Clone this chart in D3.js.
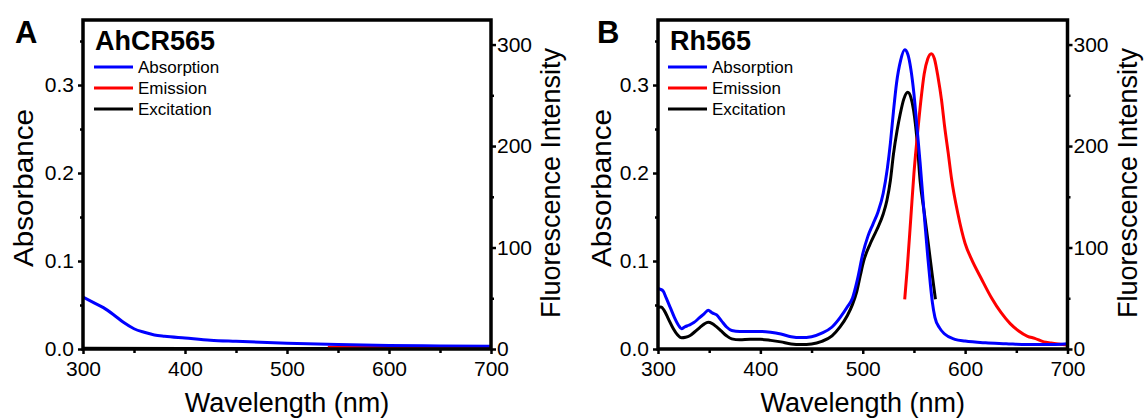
<!DOCTYPE html>
<html>
<head>
<meta charset="utf-8">
<script src="https://cdn.jsdelivr.net/npm/d3@7"></script>
<style>
  html, body { margin: 0; padding: 0; background: #fff; }
  svg { display: block; font-family: "Liberation Sans", Arial, sans-serif; }
</style>
</head>
<body>
<svg id="chart" width="1146" height="419"></svg>
<script>
// ---------- tick labels / text ----------
const wavelengthTicks = [300, 400, 500, 600, 700];
const wavelengthMinor = [350, 450, 550, 650];
const absorbanceTicks = [0.0, 0.1, 0.2, 0.3];
const absorbanceMinor = [0.05, 0.15, 0.25, 0.35];
const fluorTicks = [0, 100, 200, 300];
const fluorMinor = [50, 150, 250];
const legendLabels = ["Absorption", "Emission", "Excitation"];
const panelLetters = ["A", "B"];
const panelTitles = ["AhCR565", "Rh565"];

// ---------- Panel A (AhCR565) ----------
const aAbsWl  = [300, 310, 320, 330, 340, 350, 360, 370, 380, 400, 425, 450, 500, 550, 600, 650, 700];
const aAbsVal = [0.059, 0.053, 0.047, 0.039, 0.030, 0.023, 0.019, 0.016, 0.0145, 0.0125, 0.010, 0.0087, 0.0065, 0.005, 0.004, 0.0035, 0.003];
const aEmWl   = [540, 600, 650, 700];
const aEmVal  = [1.8, 1.6, 1.4, 1.2];
const aExcWl  = [300, 400, 500, 570];
const aExcVal = [0.8, 0.5, 0.4, 0.4];

// ---------- Panel B (Rh565) ----------
const bAbsWl  = [300, 302, 305, 308, 312, 316, 320, 323, 326, 330, 335, 340, 345, 349, 353, 357, 362, 367, 372, 380, 390, 400, 410, 420, 430, 440, 450, 460, 470, 478, 485, 490, 495, 500, 505, 510, 515, 520, 524, 527, 530, 533, 537, 541, 544, 547, 550, 553, 556, 559, 561, 563.5, 566, 568, 570.5, 575, 580, 590, 600, 620, 640, 660, 680, 700];
const bAbsVal = [0.069, 0.068, 0.066, 0.058, 0.047, 0.036, 0.027, 0.023, 0.025, 0.027, 0.030, 0.035, 0.040, 0.044, 0.041, 0.039, 0.032, 0.025, 0.021, 0.020, 0.020, 0.020, 0.019, 0.017, 0.014, 0.013, 0.014, 0.018, 0.025, 0.036, 0.048, 0.058, 0.080, 0.108, 0.128, 0.142, 0.156, 0.177, 0.205, 0.234, 0.270, 0.302, 0.328, 0.340, 0.335, 0.318, 0.290, 0.252, 0.212, 0.168, 0.139, 0.105, 0.074, 0.053, 0.036, 0.024, 0.017, 0.011, 0.009, 0.007, 0.006, 0.005, 0.005, 0.006];
const bEmWl   = [541, 543.5, 547, 550, 553.5, 556.8, 560, 563.5, 567, 570, 573.5, 577, 580, 583.5, 586.7, 593, 600, 606, 616, 626, 635, 644, 652, 661, 668, 677, 684, 700];
const bEmVal  = [49, 80, 130, 173, 212, 245, 271, 286, 291, 286, 268, 245, 219, 193, 168, 133, 104, 89, 69, 50, 36, 25, 18, 12.5, 10.5, 7, 6, 4];
const bExcWl  = [300, 303, 306, 310, 315, 319, 323, 327, 331, 336, 341, 345, 349, 353, 357, 362, 367, 372, 380, 390, 400, 410, 420, 430, 440, 450, 460, 470, 478, 485, 490, 494, 497.5, 501, 507, 513.5, 520, 523.5, 527, 530, 533.5, 536.7, 540, 544, 547, 549.7, 553, 556, 560, 564, 568, 571];
const bExcVal = [41, 41.5, 38, 30, 20, 14, 11, 11.5, 13, 17, 21.3, 24.5, 26.3, 25, 22, 17.5, 13, 10, 9, 9.5, 9.5, 8.5, 7, 5, 4.5, 5, 7.5, 13, 22, 33, 44, 56, 72, 87, 103, 117, 133, 146, 166, 192, 215, 232, 246, 253, 248, 235, 206, 166, 135, 104, 72, 49];

const seriesColors = ["#0000ff", "#ff0000", "#000000"];

const panels = [
  { left: 83, right: 491, yTitleX: 33, letterX: 15, titleX: 95, legX: 94,
    abs: [aAbsWl, aAbsVal], em: [aEmWl, aEmVal], exc: [aExcWl, aExcVal] },
  { left: 658, right: 1067.5, yTitleX: 611, letterX: 597, titleX: 670, legX: 668,
    abs: [bAbsWl, bAbsVal], em: [bEmWl, bEmVal], exc: [bExcWl, bExcVal] }
];

const TOP = 20, BOTTOM = 349;
const svg = d3.select("#chart");

panels.forEach((p, i) => {
  const x = d3.scaleLinear().domain([300, 700]).range([p.left, p.right]);
  const yL = d3.scaleLinear().domain([0, 0.3739]).range([BOTTOM, TOP]);
  const yR = d3.scaleLinear().domain([0, 324.2]).range([BOTTOM, TOP]);
  const g = svg.append("g");

  // clip
  const clipId = "clip" + i;
  svg.append("clipPath").attr("id", clipId).append("rect")
    .attr("x", p.left).attr("y", TOP).attr("width", p.right - p.left).attr("height", BOTTOM - TOP);

  const styleAxis = (sel, size) => {
    sel.select(".domain").remove();
    sel.selectAll(".tick line").attr("stroke", "#000").attr("stroke-width", 2.5);
    sel.selectAll(".tick text").attr("fill", "#000").style("font-size", size + "px")
      .style("font-family", "'Liberation Sans', Arial, sans-serif");
  };

  // bottom axis
  g.append("g").attr("transform", `translate(0,${BOTTOM})`)
    .call(d3.axisBottom(x).tickValues(wavelengthTicks).tickSize(5).tickPadding(7).tickFormat(d3.format("d")))
    .call(s => styleAxis(s, 21));
  g.append("g").attr("transform", `translate(0,${BOTTOM})`)
    .call(d3.axisBottom(x).tickValues(wavelengthMinor).tickSize(4).tickFormat(""))
    .call(s => styleAxis(s, 21));

  // left axis
  g.append("g").attr("transform", `translate(${p.left},0)`)
    .call(d3.axisLeft(yL).tickValues(absorbanceTicks).tickSize(5).tickPadding(4).tickFormat(d3.format(".1f")))
    .call(s => styleAxis(s, 21));
  g.append("g").attr("transform", `translate(${p.left},0)`)
    .call(d3.axisLeft(yL).tickValues(absorbanceMinor).tickSize(3).tickFormat(""))
    .call(s => styleAxis(s, 21));

  // right axis
  g.append("g").attr("transform", `translate(${p.right},0)`)
    .call(d3.axisRight(yR).tickValues(fluorTicks).tickSize(5).tickPadding(1).tickFormat(d3.format("d")))
    .call(s => styleAxis(s, 21));
  g.append("g").attr("transform", `translate(${p.right},0)`)
    .call(d3.axisRight(yR).tickValues(fluorMinor).tickSize(3).tickFormat(""))
    .call(s => styleAxis(s, 21));

  // curves
  const mk = (scaleY, arr) => {
    const pts = arr[0].map((w, k) => [w, arr[1][k]]);
    return d3.line().x(d => x(d[0])).y(d => scaleY(d[1])).curve(d3.curveMonotoneX)(pts);
  };
  const lines = g.append("g").attr("clip-path", `url(#${clipId})`);
  lines.append("path").attr("d", mk(yR, p.exc)).attr("fill", "none")
    .attr("stroke", seriesColors[2]).attr("stroke-width", 3);
  lines.append("path").attr("d", mk(yR, p.em)).attr("fill", "none")
    .attr("stroke", seriesColors[1]).attr("stroke-width", 3);
  lines.append("path").attr("d", mk(yL, p.abs)).attr("fill", "none")
    .attr("stroke", seriesColors[0]).attr("stroke-width", 3);

  // frame
  g.append("rect").attr("x", p.left).attr("y", TOP)
    .attr("width", p.right - p.left).attr("height", BOTTOM - TOP)
    .attr("fill", "none").attr("stroke", "#000").attr("stroke-width", 3.5);

  // axis titles
  g.append("text").attr("x", (p.left + p.right) / 2).attr("y", 412)
    .attr("text-anchor", "middle").style("font-size", "27px").text("Wavelength (nm)");
  g.append("text").attr("transform", `translate(${p.yTitleX},188) rotate(-90)`)
    .attr("text-anchor", "middle").style("font-size", "27px")
    .attr("textLength", 158).attr("lengthAdjust", "spacingAndGlyphs").text("Absorbance");
  g.append("text").attr("transform", `translate(${p.right + 69},183) rotate(-90)`)
    .attr("text-anchor", "middle").style("font-size", "27px").text("Fluorescence Intensity");

  // panel letter and title
  g.append("text").attr("x", p.letterX).attr("y", 43)
    .style("font-size", "31px").style("font-weight", "bold").text(panelLetters[i]);
  g.append("text").attr("x", p.titleX).attr("y", 50)
    .style("font-size", "27px").style("font-weight", "bold").text(panelTitles[i]);

  // legend
  legendLabels.forEach((lab, k) => {
    const ly = 67 + k * 21;
    g.append("line").attr("x1", p.legX).attr("x2", p.legX + 39)
      .attr("y1", ly).attr("y2", ly).attr("stroke", seriesColors[k]).attr("stroke-width", 3);
    g.append("text").attr("x", p.legX + 44).attr("y", ly + 6)
      .style("font-size", "17px").text(lab);
  });
});
</script>
</body>
</html>
